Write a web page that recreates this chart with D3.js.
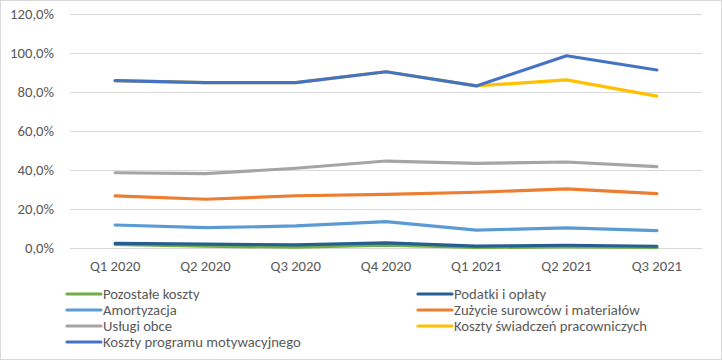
<!DOCTYPE html>
<html><head><meta charset="utf-8">
<script src="https://cdn.jsdelivr.net/npm/d3@7"></script>
<style>body{margin:0;background:#fff}svg{display:block}</style>
</head><body><svg id="c" width="722" height="360"></svg>
<script>
const categories = ["Q1 2020","Q2 2020","Q3 2020","Q4 2020","Q1 2021","Q2 2021","Q3 2021"];
const yTicks = [0,20,40,60,80,100,120];
const seriesNames = ["Pozostałe koszty","Podatki i opłaty","Amortyzacja","Zużycie surowców i materiałów","Usługi obce","Koszty świadczeń pracowniczych","Koszty programu motywacyjnego"];
const seriesColors = ["#70AD47","#255E91","#5B9BD5","#ED7D31","#A5A5A5","#FFC000","#4472C4"];
const pozostale = [1.8,0.9,0.4,1.5,0.3,0.5,0.3];
const podatki = [2.4,2.0,1.6,2.6,1.0,1.4,0.9];
const amortyzacja = [11.8,10.4,11.3,13.5,9.2,10.3,8.9];
const zuzycie = [26.7,25.0,26.8,27.5,28.6,30.3,27.9];
const uslugi = [38.6,38.1,40.9,44.6,43.4,44.1,41.7];
const swiadczenia = [85.8,84.8,84.8,90.4,83.1,86.2,77.9];
const motywacyjny = [85.8,84.8,84.8,90.4,83.1,98.6,91.3];
const seriesValues = [pozostale,podatki,amortyzacja,zuzycie,uslugi,swiadczenia,motywacyjny];

const svg = d3.select("#c");
const font = "Calibri, Carlito, Lato, sans-serif";
svg.append("rect").attr("x",0.5).attr("y",0.5).attr("width",721).attr("height",359)
  .attr("fill","#fff").attr("stroke","#d9d9d9");

const x = d3.scaleBand().domain(categories).range([70,702]);
const y = d3.scaleLinear().domain([0,120]).range([248,14]);

const gy = svg.append("g").attr("transform","translate(70,0)")
  .call(d3.axisLeft(y).tickValues(yTicks).tickSize(-632)
    .tickFormat(d => d.toFixed(1).replace(".",",")+"%").tickPadding(16));
gy.select(".domain").remove();
gy.selectAll("line").attr("stroke","#d9d9d9");
gy.selectAll("text").attr("fill","#595959").style("font-size","14.7px").style("font-family",font);

const gx = svg.append("g").attr("transform","translate(0,248)")
  .call(d3.axisBottom(x).tickSize(0).tickPadding(13));
gx.select(".domain").attr("stroke","#d9d9d9");
gx.selectAll("text").attr("fill","#595959").style("font-size","14.7px").style("font-family",font);

const line = d3.line().x((d,i)=>x(categories[i])+x.bandwidth()/2).y(d=>y(d));
seriesValues.forEach((vals,k)=>{
  svg.append("path").datum(vals).attr("d",line).attr("fill","none")
    .attr("stroke",seriesColors[k]).attr("stroke-width",3.2)
    .attr("stroke-linejoin","round").attr("stroke-linecap","round");
});

const legPos = [[67,294],[418,294],[67,310],[418,310],[67,326],[418,326],[67,342]];
seriesNames.forEach((n,k)=>{
  const [lx,ly] = legPos[k];
  const g = svg.append("g");
  g.append("line").attr("x1",lx).attr("x2",lx+34).attr("y1",ly).attr("y2",ly)
    .attr("stroke",seriesColors[k]).attr("stroke-width",3.2).attr("stroke-linecap","round");
  g.append("text").attr("x",lx+36).attr("y",ly).attr("dy","0.35em").text(n)
    .attr("fill","#595959").style("font-size","14.7px").style("font-family",font);
});
</script></body></html>
